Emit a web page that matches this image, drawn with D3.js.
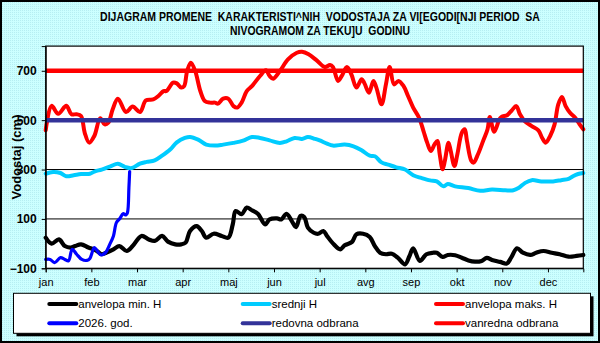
<!DOCTYPE html>
<html>
<head>
<meta charset="utf-8">
<script src="https://cdn.jsdelivr.net/npm/d3@7"></script>
<style>
  html, body { margin: 0; padding: 0; background: #ccffff; }
  svg { display: block; font-family: "Liberation Sans", Arial, sans-serif; }
</style>
</head>
<body>
<svg id="chart" width="600" height="343"></svg>
<script>
// Month tick labels (tick every 31 days of the year)
const months = ["jan", "feb", "mar", "apr", "maj", "jun", "jul", "avg", "sep", "okt", "nov", "dec"];
const yTicks = [-100, 100, 300, 500, 700];

// Series: [day of year, water level in cm]
const minEnvelope = [
  [0, 24], [4, 0], [9, 17], [13, -10], [17, -16], [20, -10], [24, -3], [29, -16], [34, -27],
  [38, -43], [41, -37], [46, -23], [50, -10], [55, -30], [59, -10], [65, 31], [70, 17], [74, 11],
  [79, 31], [83, 8], [88, -3], [92, -3], [95, 4], [98, 51], [102.5, 71], [106, 51], [109, 24],
  [114, 40], [119.5, 31], [124, 24], [127, 78], [129, 132], [133, 119], [136.5, 146], [140, 135],
  [144, 121], [149, 78], [152, 98], [157, 102], [160, 98], [163.5, 121], [167, 92], [170, 67],
  [173, 112], [175.5, 108], [178, 65], [182, 44], [185, 40], [188.5, 51], [191, 31], [195, 1],
  [200, -23], [203, -7], [208, 7], [211, 38], [215.5, 40], [220, 27], [223.5, -10], [227, -37],
  [231, -43], [235, -41], [239, -57], [244, -84], [247, -50], [249.5, -19], [254, -70],
  [258.5, -43], [263, -37], [265.5, -37], [269.5, -54], [273, -46], [278, -47], [282.5, -57],
  [287, -68], [291.5, -73], [296, -70], [299.5, -58], [303, -66], [308.5, -74], [313, -81],
  [316, -57], [320, -19], [324, -37], [329, -46], [333, -37], [338, -30], [343.5, -37],
  [349, -43], [355, -53], [360.5, -50], [365, -46]
];

const meanLevel = [
  [0, 283], [5, 290], [10, 286], [14, 273], [19, 277], [24, 282], [30, 283], [33.5, 293],
  [38, 300], [44, 313], [49, 323], [54, 310], [58.5, 306], [64, 324], [68.5, 331], [74, 337],
  [79, 356], [84.5, 381], [89, 410], [94.5, 428], [98, 432], [103.5, 421], [109, 401],
  [115, 397], [120.5, 401], [127.5, 408], [134, 417], [140, 432], [145.5, 428], [152, 418],
  [159, 408], [163.5, 414], [169, 428], [174, 424], [178, 432], [183, 424], [186, 418],
  [191, 405], [195, 397], [203, 401], [209, 394], [214.5, 378], [220, 356], [223.5, 354],
  [228, 329], [232.5, 320], [238, 309], [244, 300], [249.5, 277], [255, 266], [261, 256],
  [265.5, 252], [270, 232], [273, 241], [278, 232], [287, 225], [295, 214], [303, 219],
  [312, 216], [317.5, 216], [321, 225], [325.5, 246], [330, 257], [336.5, 252], [344.5, 252],
  [350, 257], [355, 262], [358, 273], [361.5, 282], [365, 286]
];

const maxEnvelope = [
  [0, 459], [4, 558], [8.5, 526], [14, 558], [17.5, 524], [21, 524], [24, 517], [26.5, 449],
  [29.5, 409], [33, 436], [37, 508], [40, 483], [42.5, 490], [45.5, 544], [49, 587], [54.5, 533],
  [59, 555], [64, 533], [68, 580], [73, 584], [76.5, 598], [80, 618], [82, 618], [86.5, 652],
  [89, 649], [92, 632], [94, 638], [96, 699], [98.5, 733], [101.5, 699], [105, 618],
  [108, 578], [111.5, 571], [115, 571], [117, 567], [120.5, 587], [124, 587], [127.5, 557],
  [130, 551], [133, 571], [136.5, 618], [140, 638], [145.5, 679], [149.5, 702], [152, 679],
  [154.5, 668], [159, 699], [164.5, 746], [170.5, 773], [174, 777], [178.5, 767], [184, 742],
  [189.5, 715], [193, 723], [195, 715], [198.5, 659], [201, 679], [204.5, 715], [207.5, 686],
  [211, 632], [214.5, 666], [216.5, 648], [219.5, 611], [222.5, 659], [224.5, 632], [228, 564],
  [231, 645], [233.5, 715], [236.5, 645], [239.5, 659], [243, 638], [246, 598], [249.5, 551],
  [253.5, 510], [256.5, 456], [259, 409], [261.5, 375], [264, 402], [266, 416], [267.5, 362],
  [269.5, 301], [271, 335], [273.5, 409], [275, 375], [277.5, 314], [279.5, 362], [282.5, 449],
  [284.5, 463], [286, 416], [289, 335], [290.5, 328], [293.5, 362], [297, 416], [300, 463],
  [301.5, 513], [304.5, 453], [308, 503], [309.5, 513], [313.5, 521], [316.5, 540],
  [319.5, 557], [322, 524], [325.5, 494], [330, 476], [334.5, 459], [337, 429], [339.5, 409],
  [342.5, 436], [345.5, 483], [348, 564], [350.5, 594], [353, 557], [356, 530], [359.5, 510],
  [362.5, 483], [365, 463]
];

const current2026 = [
  [0, -64], [3, -64], [6, -77], [10, -57], [13, -64], [15.5, -70], [18, -23], [21, -43],
  [24.5, -64], [28, -68], [30, -60], [33, -16], [35, -30], [37.5, -46], [40.5, -37], [43.5, -3],
  [46, 31], [48, 85], [50.5, 103], [52.5, 121], [54.5, 116], [55.5, 125], [56.5, 227], [57, 292]
];

const regularDefence = 500;
const emergencyDefence = 700;

const legendItems = [
  { label: "anvelopa min. H", color: "#000000" },
  { label: "srednji H", color: "#00ccff" },
  { label: "anvelopa maks. H", color: "#ff0000" },
  { label: "2026. god.", color: "#0000ff" },
  { label: "redovna odbrana", color: "#333399" },
  { label: "vanredna odbrana", color: "#ff0000" }
];

const svg = d3.select("#chart");
const W = 600, H = 343;
const plot = { left: 45.7, right: 583.3, top: 46.1, bottom: 268.3 };

// Dotted cyan background
const defs = svg.append("defs");
const pat = defs.append("pattern").attr("id", "dots")
  .attr("width", 2).attr("height", 2).attr("patternUnits", "userSpaceOnUse");
pat.append("rect").attr("width", 2).attr("height", 2).attr("fill", "#ccffff");
pat.append("rect").attr("width", 1).attr("height", 1).attr("fill", "#b6eef2");

svg.append("rect").attr("x", 0).attr("y", 0).attr("width", W).attr("height", H).attr("fill", "url(#dots)");
svg.append("rect").attr("x", 1).attr("y", 1).attr("width", W - 2).attr("height", H - 2)
  .attr("fill", "none").attr("stroke", "#000").attr("stroke-width", 2);

// Title: two centred lines, squeezed horizontally to their set widths
const nb = "\u00A0";
const titleLines = [
  { text: `DIJAGRAM PROMENE ${nb}KARAKTERISTI^NIH ${nb}VODOSTAJA ZA VI[EGODI[NJI PERIOD ${nb}SA`, cx: 320, y: 21, w: 440 },
  { text: `NIVOGRAMOM ZA TEKU]U ${nb}GODINU`, cx: 320, y: 35, w: 180 }
];
titleLines.forEach(t => {
  const el = svg.append("text")
    .attr("text-anchor", "middle")
    .attr("font-weight", "bold").attr("font-size", 12).attr("fill", "#000")
    .text(t.text);
  const natural = el.node().getComputedTextLength();
  const sx = Math.min(1, t.w / natural);
  el.attr("transform", `translate(${t.cx},${t.y}) scale(${sx},1)`);
});

// Scales
const x = d3.scaleLinear().domain([0, 365]).range([plot.left, plot.right]);
const y = d3.scaleLinear().domain([-100, 800]).range([plot.bottom, plot.top]);

// Plot area
svg.append("rect").attr("x", plot.left).attr("y", plot.top)
  .attr("width", plot.right - plot.left).attr("height", plot.bottom - plot.top)
  .attr("fill", "#fff");

// Horizontal gridlines
svg.append("g").selectAll("line").data(yTicks.filter(d => d > -100)).join("line")
  .attr("x1", plot.left).attr("x2", plot.right)
  .attr("y1", d => y(d)).attr("y2", d => y(d))
  .attr("stroke", "#000").attr("stroke-width", 1);

// Series lines
const line = d3.line().x(d => x(d[0])).y(d => y(d[1])).curve(d3.curveCatmullRom.alpha(0.5));
const series = [
  { data: minEnvelope, color: "#000000", width: 4.2 },
  { data: meanLevel, color: "#00ccff", width: 4 },
  { data: maxEnvelope, color: "#ff0000", width: 4 },
  { data: current2026, color: "#0000ff", width: 3.2 }
];
svg.append("g").selectAll("path").data(series).join("path")
  .attr("d", d => line(d.data))
  .attr("fill", "none")
  .attr("stroke", d => d.color)
  .attr("stroke-width", d => d.width)
  .attr("stroke-linejoin", "round")
  .attr("stroke-linecap", "round");

// Defence levels
svg.append("g").selectAll("line").data([
  { v: regularDefence, color: "#333399" },
  { v: emergencyDefence, color: "#ff0000" }
]).join("line")
  .attr("x1", plot.left).attr("x2", plot.right)
  .attr("y1", d => y(d.v)).attr("y2", d => y(d.v))
  .attr("stroke", d => d.color).attr("stroke-width", 4.5);

// Plot border
svg.append("rect").attr("x", plot.left).attr("y", plot.top)
  .attr("width", plot.right - plot.left).attr("height", plot.bottom - plot.top)
  .attr("fill", "none").attr("stroke", "#000").attr("stroke-width", 1.2);

// Y axis
const yAxis = svg.append("g").attr("transform", `translate(${plot.left},0)`)
  .call(d3.axisLeft(y).tickValues(yTicks).tickSize(4).tickPadding(5));
yAxis.select(".domain").attr("stroke", "#000");
yAxis.selectAll("text").attr("font-size", 12).attr("font-weight", "bold")
  .attr("font-family", "Liberation Sans, Arial, sans-serif").attr("fill", "#000");
yAxis.selectAll(".tick line").attr("stroke", "#000");

// X axis
const xAxis = svg.append("g").attr("transform", `translate(0,${plot.bottom})`)
  .call(d3.axisBottom(x).tickValues(months.map((m, i) => i * 31))
    .tickFormat((d, i) => months[i]).tickSize(4).tickPadding(6));
xAxis.select(".domain").attr("stroke", "#000");
xAxis.selectAll("text").attr("font-size", 11)
  .attr("font-family", "Liberation Sans, Arial, sans-serif").attr("fill", "#000");
xAxis.selectAll(".tick line").attr("stroke", "#000");

// Y axis title
svg.append("text")
  .attr("transform", "translate(21,157) rotate(-90)")
  .attr("text-anchor", "middle")
  .attr("font-size", 13).attr("font-weight", "bold").attr("fill", "#000")
  .text("Vodostaj (cm)");

// Legend
const lg = { x: 13.5, y: 293.3, w: 577, h: 40 };
svg.append("rect").attr("x", lg.x + 3).attr("y", lg.y + 3).attr("width", lg.w).attr("height", lg.h).attr("fill", "#000");
svg.append("rect").attr("x", lg.x).attr("y", lg.y).attr("width", lg.w).attr("height", lg.h)
  .attr("fill", "#fff").attr("stroke", "#000").attr("stroke-width", 1);

const colX = [48.3, 241.7, 435];
const rowY = [304, 323.3];
const entries = svg.append("g").selectAll("g").data(legendItems).join("g")
  .attr("transform", (d, i) => `translate(${colX[i % 3]},${rowY[Math.floor(i / 3)]})`);
entries.append("line").attr("x1", 1).attr("x2", 28)
  .attr("stroke", d => d.color).attr("stroke-width", 4).attr("stroke-linecap", "round");
entries.append("text").attr("x", 30).attr("dy", "0.35em")
  .attr("font-size", 11.5).attr("fill", "#000")
  .text(d => d.label);
</script>
</body>
</html>
